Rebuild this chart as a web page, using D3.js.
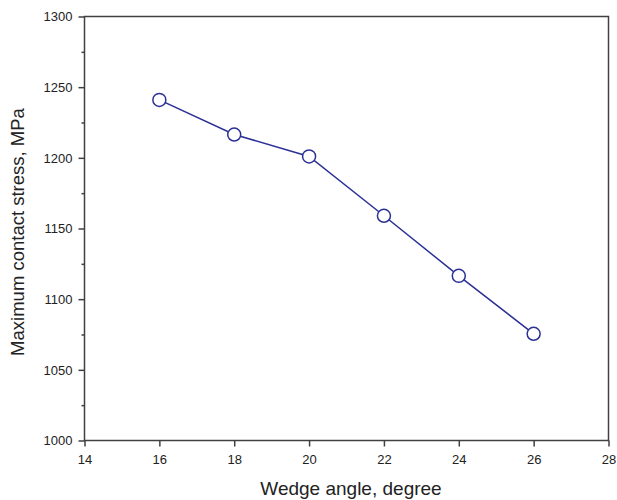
<!DOCTYPE html>
<html><head><meta charset="utf-8">
<script src="https://cdn.jsdelivr.net/npm/d3@7"></script>
<style>body{margin:0;background:#fff;} text{font-family:"Liberation Sans",Arial,sans-serif;}</style>
</head><body><svg id="c" width="617" height="500"></svg>
<script>
const angles = [16, 18, 20, 22, 24, 26];
const stress = [1241, 1216.5, 1201, 1159, 1116.5, 1075.5];
const xTicks = [14, 16, 18, 20, 22, 24, 26, 28];
const yTicks = [1000, 1050, 1100, 1150, 1200, 1250, 1300];
const yMinor = [1025, 1075, 1125, 1175, 1225, 1275];

const svg = d3.select("#c");
const L = 84.5, R = 608.5, T = 16.5, B = 440.5;
const x = d3.scaleLinear().domain([14, 28]).range([L, R]);
const y = d3.scaleLinear().domain([1000, 1300]).range([B, T]);
const axisColor = "#404040";

svg.append("rect").attr("x", L).attr("y", T).attr("width", R - L).attr("height", B - T)
  .attr("fill", "none").attr("stroke", axisColor).attr("stroke-width", 1.5);

const gx = svg.append("g").attr("transform", `translate(0,${B})`)
  .call(d3.axisBottom(x).tickValues(xTicks).tickSize(6).tickPadding(8).tickFormat(d3.format("d")));
const gy = svg.append("g").attr("transform", `translate(${L},0)`)
  .call(d3.axisLeft(y).tickValues(yTicks).tickSize(6).tickPadding(6).tickFormat(d3.format("d")));
const gym = svg.append("g").attr("transform", `translate(${L},0)`)
  .call(d3.axisLeft(y).tickValues(yMinor).tickSize(3).tickFormat(""));
[gx, gy, gym].forEach(g => {
  g.select(".domain").remove();
  g.selectAll("line").attr("stroke", axisColor).attr("stroke-width", 1.5);
  g.selectAll("text").attr("fill", "#222").style("font-size", "13px").style("font-family", "Liberation Sans, Arial, sans-serif");
});

const color = "#2b3195";
svg.append("path").datum(angles.map((a, i) => [a, stress[i]]))
  .attr("fill", "none").attr("stroke", color).attr("stroke-width", 1.5)
  .attr("d", d3.line().x(d => x(d[0])).y(d => y(d[1])));
svg.selectAll("circle.pt").data(angles.map((a, i) => [a, stress[i]])).enter()
  .append("circle").attr("class", "pt")
  .attr("cx", d => x(d[0])).attr("cy", d => y(d[1])).attr("r", 6.5)
  .attr("fill", "#fff").attr("stroke", color).attr("stroke-width", 1.5);

svg.append("text").attr("x", 351).attr("y", 495).attr("text-anchor", "middle")
  .style("font-size", "19px").attr("fill", "#222").text("Wedge angle, degree");
svg.append("text").attr("transform", `translate(24,232) rotate(-90)`)
  .attr("text-anchor", "middle").style("font-size", "18.5px").attr("fill", "#222")
  .text("Maximum contact stress, MPa");
</script></body></html>
